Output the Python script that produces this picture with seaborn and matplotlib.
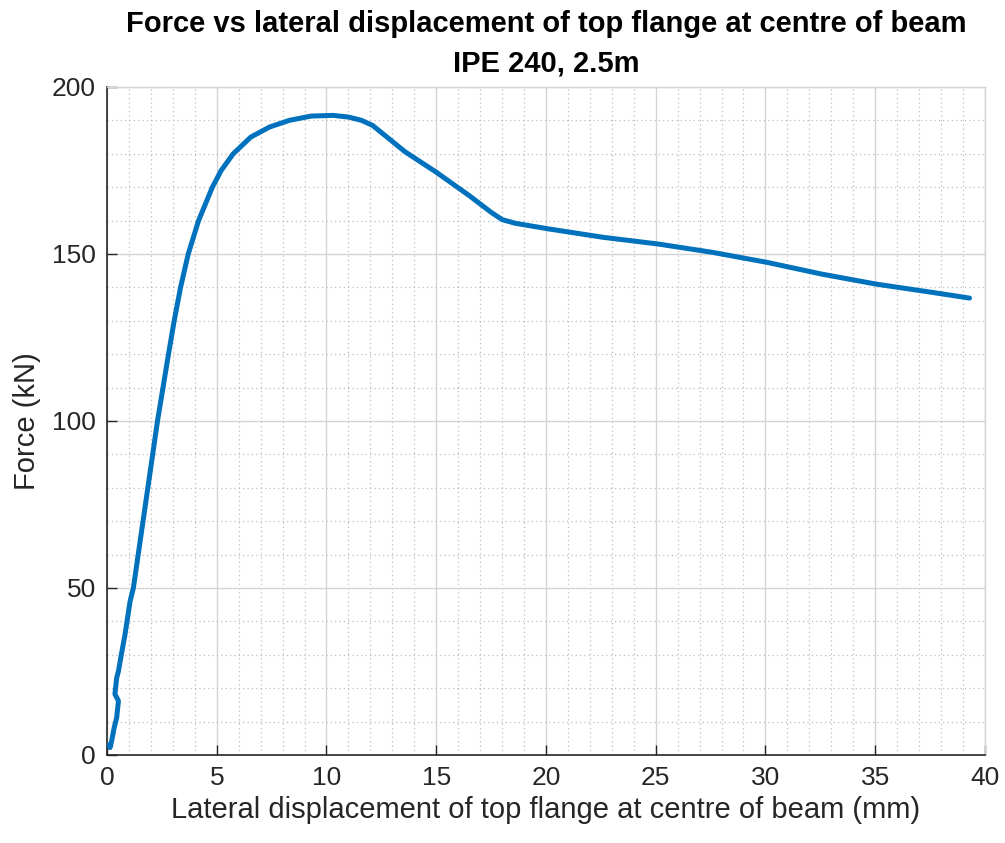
import matplotlib
matplotlib.use("Agg")
import matplotlib.pyplot as plt
from matplotlib.ticker import MultipleLocator
import seaborn as sns
import pandas as pd

# Lateral displacement of the top flange (mm) and applied force (kN)
displacement_mm = [0.08, 0.14, 0.21, 0.32, 0.44, 0.52, 0.36, 0.44, 0.52, 0.65,
                   0.82, 1.05, 1.20, 1.75, 2.30, 2.55, 2.80, 3.06, 3.35, 3.70,
                   4.17, 4.80, 5.20, 5.75, 6.55, 7.40, 8.30, 9.30, 10.30, 11.00,
                   11.60, 12.10, 13.58, 15.0, 16.5, 17.5, 18.0, 18.6, 20.13,
                   22.6, 25.1, 27.58, 30.07, 32.55, 35.03, 37.5, 39.3]
force_kn = [3.0, 2.2, 4.2, 8.0, 11.2, 16.2, 18.2, 23.1, 25.1, 30.0,
            36.1, 46.0, 50.0, 75.0, 100.0, 110.0, 120.0, 130.0, 140.0, 150.0,
            160.0, 170.0, 175.0, 180.0, 185.0, 188.0, 190.0, 191.3, 191.5, 191.0,
            190.0, 188.5, 180.6, 174.5, 167.5, 162.5, 160.3, 159.2, 157.5,
            155.0, 153.0, 150.5, 147.5, 144.0, 141.0, 138.6, 136.8]

x_ticks = [0, 5, 10, 15, 20, 25, 30, 35, 40]
y_ticks = [0, 50, 100, 150, 200]

title_text = "Force vs lateral displacement of top flange at centre of beam\nIPE 240, 2.5m"
x_label = "Lateral displacement of top flange at centre of beam (mm)"
y_label = "Force (kN)"

df = pd.DataFrame({"disp": displacement_mm, "force": force_kn})

sns.set_theme(style="white")
plt.rcParams["font.family"] = ["Liberation Sans", "DejaVu Sans"]

text_col = "#262626"
fig = plt.figure(figsize=(10.05, 8.43), dpi=100)
ax = fig.add_axes([0.1065, 0.1044, 0.8735, 0.7924])

sns.lineplot(data=df, x="disp", y="force", sort=False, estimator=None,
             color="#0072BD", linewidth=3.6, ax=ax, zorder=5)
ax.lines[-1].set_solid_joinstyle("round")
ax.lines[-1].set_solid_capstyle("round")

ax.set_xlim(0, 40)
ax.set_ylim(0, 200)
ax.set_xticks(x_ticks)
ax.set_yticks(y_ticks)
ax.xaxis.set_minor_locator(MultipleLocator(1))
ax.yaxis.set_minor_locator(MultipleLocator(10))

ax.grid(which="major", color="#d4d4d4", linestyle="-", linewidth=1.0, zorder=0)
ax.grid(which="minor", color="#bdbdbd", linestyle=(0, (1, 2.5)), linewidth=0.9, zorder=0)
ax.set_axisbelow(True)

for side in ("left", "bottom"):
    ax.spines[side].set_color(text_col)
    ax.spines[side].set_linewidth(1.2)
for side in ("top", "right"):
    ax.spines[side].set_color("#d4d4d4")
    ax.spines[side].set_linewidth(1.0)

ax.tick_params(which="major", direction="in", length=7, width=1.0,
               colors=text_col, labelsize=19, pad=8,
               bottom=True, left=True, top=False, right=False)
ax.tick_params(which="minor", length=0)

ax.set_xlabel(x_label, fontsize=21, color=text_col, labelpad=4)
ax.set_ylabel(y_label, fontsize=21, color=text_col, labelpad=8)

fig.text(0.5433, 0.988, title_text, ha="center", va="top", fontsize=21,
         fontweight="bold", color="black", linespacing=1.5)

fig.savefig("out.png", dpi=100)
